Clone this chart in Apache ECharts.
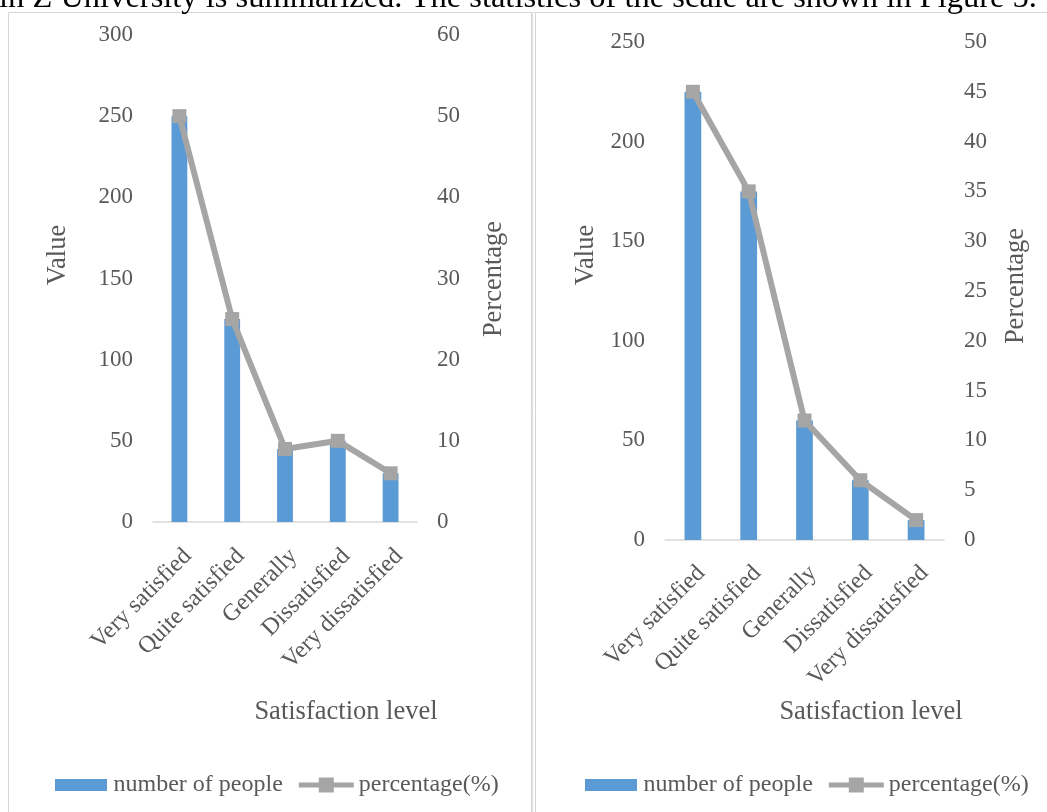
<!DOCTYPE html>
<html>
<head>
<meta charset="utf-8">
<script src="https://cdn.jsdelivr.net/npm/echarts@6/dist/echarts.min.js"></script>
<style>
  html, body { margin: 0; padding: 0; background: #fff; }
  #main { width: 1047px; height: 812px; }
</style>
</head>
<body>
<div id="main"></div>
<script>
// Satisfaction survey: two panels, counts (bars) and share (line)
const categories = ['Very satisfied', 'Quite satisfied', 'Generally', 'Dissatisfied', 'Very dissatisfied'];
const peopleLeft = [250, 125, 45, 50, 30];
const percentLeft = [50, 25, 9, 10, 6];
const peopleRight = [225, 175, 60, 30, 10];
const percentRight = [45, 35, 12, 6, 2];
const seriesNames = ['number of people', 'percentage(%)'];
const xTitle = 'Satisfaction level';
const yTitleLeft = 'Value';
const yTitleRight = 'Percentage';
const captionLine = 'in Z University is summarized. The statistics of the scale are shown in Figure 5.';

const FONT = '"Liberation Serif", "Times New Roman", serif';
const TEXT = '#595959';
const BLUE = '#5B9BD5';
const GREY = '#A5A5A5';
const AXIS = '#D9D9D9';

// legend glyph for the line series: thick stroke with a square marker in the middle
const LINE_ICON = 'path://M0,5H20V0H35V5H55V10H35V15H20V10H0Z';

const chart = echarts.init(document.getElementById('main'));

function xAxisFor(gridIndex, margin) {
  return {
    type: 'category', gridIndex, data: categories,
    axisLine: { lineStyle: { color: AXIS, width: 1.5 } },
    axisTick: { show: false },
    axisLabel: {
      interval: 0, rotate: 45, margin, align: 'right', verticalAlign: 'top',
      color: TEXT, fontFamily: FONT, fontSize: 24
    }
  };
}
function yAxisFor(gridIndex, max, interval, position) {
  return {
    type: 'value', gridIndex, min: 0, max, interval, position,
    axisLine: { show: false }, axisTick: { show: false },
    splitLine: { show: false },
    axisLabel: { margin: 20, color: TEXT, fontFamily: FONT, fontSize: 23 }
  };
}
function barSeries(xi, yi, data) {
  return { name: seriesNames[0], type: 'bar', xAxisIndex: xi, yAxisIndex: yi, data,
    barWidth: '30%', itemStyle: { color: BLUE } };
}
function lineSeries(xi, yi, data) {
  return { name: seriesNames[1], type: 'line', xAxisIndex: xi, yAxisIndex: yi, data,
    symbol: 'rect', symbolSize: 14, z: 3,
    lineStyle: { color: GREY, width: 6 }, itemStyle: { color: GREY } };
}
function titleText(text, x, y, rotated) {
  return { type: 'text', x, y, rotation: rotated ? Math.PI / 2 : 0,
    style: { text, fill: TEXT, font: '26.5px ' + FONT, align: 'center', verticalAlign: 'middle' } };
}
function legendFor(left) {
  return {
    left, top: 773, padding: 0, itemWidth: 55, itemHeight: 15, itemGap: 16,
    data: [
      { name: seriesNames[0], icon: 'rect',
        itemStyle: { color: BLUE, borderColor: '#fff', borderWidth: 3 } },
      { name: seriesNames[1], icon: LINE_ICON, itemStyle: { color: GREY } }
    ],
    textStyle: { color: TEXT, fontFamily: FONT, fontSize: 24 }
  };
}

chart.setOption({
  animation: false,
  grid: [
    { left: 153, top: 35, width: 264, height: 487 },
    { left: 665, top: 42, width: 279, height: 498 }
  ],
  xAxis: [xAxisFor(0, 22), xAxisFor(1, 21)],
  yAxis: [
    yAxisFor(0, 300, 50, 'left'),
    yAxisFor(0, 60, 10, 'right'),
    yAxisFor(1, 250, 50, 'left'),
    yAxisFor(1, 50, 5, 'right')
  ],
  legend: [legendFor(52), legendFor(582)],
  series: [
    barSeries(0, 0, peopleLeft),
    lineSeries(0, 1, percentLeft),
    barSeries(1, 2, peopleRight),
    lineSeries(1, 3, percentRight)
  ],
  graphic: [
    { type: 'rect', shape: { x: 8.5, y: 12.5, width: 523, height: 820 },
      style: { fill: null, stroke: '#D6D6D6', lineWidth: 1 } },
    { type: 'rect', shape: { x: 532.5, y: 12.5, width: 530, height: 820 },
      style: { fill: null, stroke: '#DEDEDE', lineWidth: 1 } },
    { type: 'rect', shape: { x: 535.5, y: 12.5, width: 530, height: 820 },
      style: { fill: null, stroke: '#D6D6D6', lineWidth: 1 } },
    { type: 'text', x: -1, y: 15,
      style: { text: captionLine, fill: '#000', font: '32.5px ' + FONT, align: 'left', verticalAlign: 'bottom' } },
    titleText(yTitleLeft, 58, 255, true),
    titleText(yTitleRight, 494, 279, true),
    titleText(xTitle, 346, 712, false),
    titleText(yTitleLeft, 586, 255, true),
    titleText(yTitleRight, 1016, 286, true),
    titleText(xTitle, 871, 712, false)
  ]
});
</script>
</body>
</html>
